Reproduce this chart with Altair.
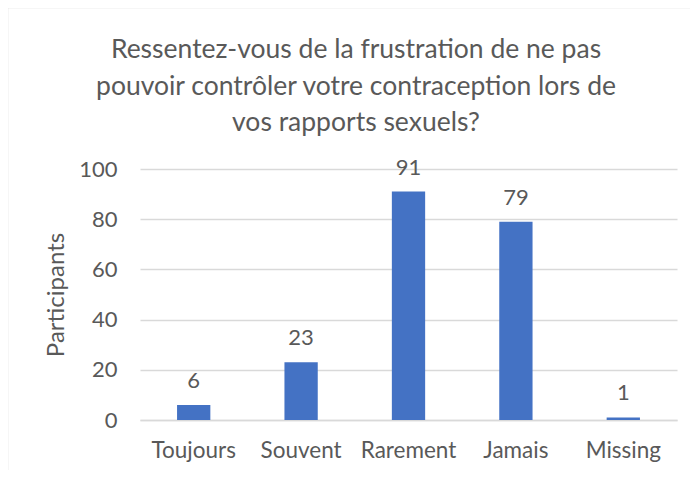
import altair as alt
import pandas as pd

categories = ["Toujours", "Souvent", "Rarement", "Jamais", "Missing"]
values = [6, 23, 91, 79, 1]
y_ticks = [0, 20, 40, 60, 80, 100]
title_lines = ["Ressentez-vous de la frustration de ne pas",
               "pouvoir contrôler votre contraception lors de",
               "vos rapports sexuels?"]

df = pd.DataFrame({"cat": categories, "val": values})

FONT = "Lato"
GREY = "#595959"
W, H = 537, 251

base = alt.Chart(df)

bars = base.mark_bar(color="#4472C4").encode(
    x=alt.X("cat:N", sort=categories,
            scale=alt.Scale(paddingInner=0.69, paddingOuter=0.345),
            axis=alt.Axis(title=None, labelAngle=0, labelFontSize=22.5,
                          labelColor=GREY, labelFont=FONT, labelPadding=19,
                          ticks=False, domainColor="#d9d9d9", domainWidth=1.5)),
    y=alt.Y("val:Q", scale=alt.Scale(domain=[0, 100], nice=False),
            axis=alt.Axis(title="Participants", values=y_ticks, labelFontSize=22,
                          labelColor=GREY, labelFont=FONT, labelPadding=23,
                          titleFontSize=24, titleColor=GREY, titleFont=FONT,
                          titleFontWeight="normal", titlePadding=10,
                          ticks=False, domain=False, gridColor="#d9d9d9",
                          gridWidth=1.3)),
)

labels = base.mark_text(dy=-17, baseline="alphabetic", fontSize=22,
                        color=GREY, font=FONT).encode(
    x=alt.X("cat:N", sort=categories),
    y="val:Q",
    text="val:Q",
)

title = alt.Chart(pd.DataFrame({"k": [0]})).mark_text(
    fontSize=26.5, font=FONT, color=GREY, align="center", baseline="alphabetic",
    lineHeight=36.5,
).encode(
    x=alt.value(216), y=alt.value(-111), text=alt.value(title_lines)
)

border_left = alt.Chart(pd.DataFrame({"k": [0]})).mark_rule(
    color="#d9d9d9", strokeWidth=1.5).encode(
    x=alt.value(-132.5), y=alt.value(-161.5), y2=alt.value(H + 60)
)
border_top = alt.Chart(pd.DataFrame({"k": [0]})).mark_rule(
    color="#d9d9d9", strokeWidth=1.5).encode(
    x=alt.value(-132.5), x2=alt.value(W + 40), y=alt.value(-161.5)
)

chart = alt.layer(bars, labels, title, border_left, border_top).properties(
    width=W, height=H,
    autosize=alt.AutoSizeParams(type="none"),
    padding={"left": 132, "top": 161, "right": 13, "bottom": 50},
).configure_view(stroke=None)

chart.save("out.html", embed_options={"renderer": "svg", "actions": False})
